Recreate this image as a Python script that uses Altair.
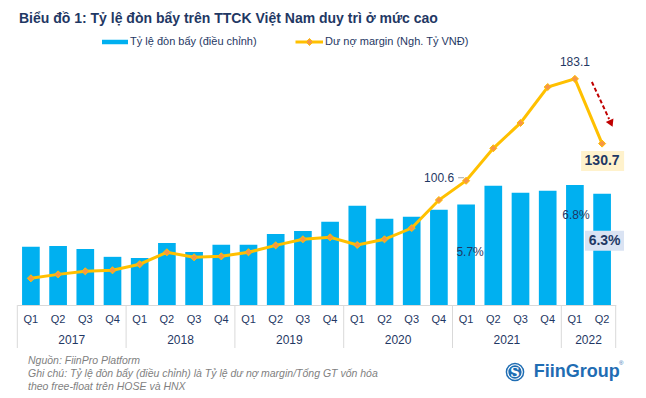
import altair as alt
import pandas as pd

# ---------------- data ----------------
years = ["2017", "2018", "2019", "2020", "2021", "2022"]
quarters_per_year = [4, 4, 4, 4, 4, 2]
quarter_names = ["Q1", "Q2", "Q3", "Q4"]

# Tỷ lệ đòn bẩy (điều chỉnh), %
leverage_pct = [3.30, 3.35, 3.18, 2.73,
                2.67, 3.52, 3.01, 3.41,
                3.41, 4.03, 4.20, 4.72,
                5.62, 4.89, 5.00, 5.40,
                5.70, 6.76, 6.36, 6.48,
                6.80, 6.30]
# Dư nợ margin (nghìn tỷ VNĐ)
margin_bn = [21.6, 24.8, 27.3, 28.1,
             33.0, 42.7, 38.6, 39.4,
             42.7, 48.3, 53.2, 54.8,
             48.6, 53.2, 62.3, 85.0,
             100.6, 126.9, 147.4, 176.5,
             183.1, 130.7]

BAR_LABEL = "Tỷ lệ đòn bẩy (điều chỉnh)"
LINE_LABEL = "Dư nợ margin (Ngh. Tỷ VNĐ)"
title_text = "Biểu đồ 1: Tỷ lệ đòn bẩy trên TTCK Việt Nam duy trì ở mức cao"
footer_lines = [
    "Nguồn: FiinPro Platform",
    "Ghi chú: Tỷ lệ đòn bẩy (điều chỉnh) là Tỷ lệ dư nợ margin/Tổng GT vốn hóa",
    "theo free-float trên HOSE và HNX",
]
brand_name = "FiinGroup"

# ---------------- styling ----------------
FONT = "Liberation Sans"
NAVY = "#1F3864"
BLUE = "#00B0F0"
GOLD = "#FFC000"
ORANGE = "#F79646"
GRID = "#D9D9D9"
LOGO_BLUE = "#1F6DB3"

W, H = 598.4, 247
HALF_STEP = W / 22 / 2

keys = []
for y, n in zip(years, quarters_per_year):
    for q in quarter_names[:n]:
        keys.append(f"{y}-{q}")

df = pd.DataFrame({"key": keys, "leverage": leverage_pct, "margin": margin_bn})

x_scale = alt.Scale(domain=keys, paddingInner=0.35, paddingOuter=0.175)
x_axis_def = alt.Axis(title=None, labelExpr="split(datum.value, '-')[1]", labelAngle=0,
                      ticks=False, tickSize=0, domainColor=GRID, domainWidth=1,
                      labelColor=NAVY, labelFontSize=11, labelFont=FONT, labelPadding=8,
                      grid=False)


def xk(field="key"):
    return alt.X(f"{field}:N", scale=x_scale, axis=x_axis_def)


lev_scale = alt.Scale(domain=[0, 14], nice=False, zero=True)
mar_scale = alt.Scale(domain=[0, 200], nice=False, zero=True)
y_lev = alt.Y("leverage:Q", scale=lev_scale, axis=None)
y_mar = alt.Y("margin:Q", scale=mar_scale, axis=None)

base = alt.Chart(df)

bars = base.mark_bar(color=BLUE).encode(x=xk(), y=y_lev)
line = base.mark_line(strokeWidth=3, color=GOLD).encode(x=xk(), y=y_mar)
points = base.mark_point(shape="diamond", filled=True, size=50, fill=ORANGE,
                         stroke=GOLD, strokeWidth=1, opacity=1).encode(x=xk(), y=y_mar)

# ---------------- annotations tied to data ----------------
i_peak, i_last, i_2021q1 = 20, 21, 16
ann = pd.DataFrame({
    "key": keys,
    "margin": margin_bn,
    "leverage": leverage_pct,
    "mlab": [f"{v:.1f}" for v in margin_bn],
    "llab": [f"{v:.1f}%" for v in leverage_pct],
})
peak = alt.Chart(ann.iloc[[i_peak]])
last = alt.Chart(ann.iloc[[i_last]])
q2021 = alt.Chart(ann.iloc[[i_2021q1]])

t_peak = peak.mark_text(font=FONT, fontSize=12, color=NAVY, dy=-17, baseline="middle").encode(
    x=xk(), y=y_mar, text="mlab:N")
t_1006 = q2021.mark_text(font=FONT, fontSize=12, color=NAVY, dx=-12, dy=-3, align="right",
                         baseline="middle").encode(x=xk(), y=y_mar, text="mlab:N")
lead_1006 = q2021.mark_rule(color="#A6A6A6", strokeWidth=1, xOffset=-8, x2Offset=-2,
                            yOffset=-3, y2Offset=-3).encode(
    x=xk(), x2=alt.X2("key:N"), y=y_mar, y2=alt.Y2("margin:Q"))
box_last = last.mark_point(shape="M-1,-0.465H1V0.465H-1Z", size=1849, filled=True,
                           color="#FFF2CC", opacity=1, yOffset=17.5, xOffset=0.5).encode(
    x=xk(), y=y_mar)
t_last = last.mark_text(font=FONT, fontSize=14, fontWeight="bold", color=NAVY, dy=17.5,
                        baseline="middle").encode(x=xk(), y=y_mar, text="mlab:N")

t_57 = q2021.mark_text(font=FONT, fontSize=12, color=NAVY, dx=4, dy=48, baseline="middle").encode(
    x=xk(), y=y_lev, text="llab:N")
t_68 = peak.mark_text(font=FONT, fontSize=12, color=NAVY, dx=1, dy=30, baseline="middle").encode(
    x=xk(), y=y_lev, text="llab:N")
box_63 = last.mark_point(shape="M-1,-0.513H1V0.513H-1Z", size=1521, filled=True,
                         color="#DAE3F3", opacity=1, yOffset=47, xOffset=2.4).encode(
    x=xk(), y=y_lev)
t_63 = last.mark_text(font=FONT, fontSize=14, fontWeight="bold", color=NAVY, dx=2.5, dy=47,
                      baseline="middle").encode(x=xk(), y=y_lev, text="llab:N")

# red dashed arrow indicating the drop (from peak toward last value)
arrow_df = pd.DataFrame({"k1": [keys[i_peak]], "k2": [keys[i_last]],
                         "m1": [180.6], "m2": [150.6], "mh": [147.0]})
arrow = alt.Chart(arrow_df).mark_rule(color="#C00000", strokeWidth=2, strokeDash=[4, 2.5],
                                      xOffset=17, x2Offset=7).encode(
    x=xk("k1"), x2="k2:N",
    y=alt.Y("m1:Q", scale=mar_scale, axis=None), y2="m2:Q")
arrow_head = alt.Chart(arrow_df).mark_point(shape="triangle-down", filled=True, size=70,
                                            color="#C00000", opacity=1, angle=335.6,
                                            xOffset=9).encode(
    x=xk("k2"), y=alt.Y("mh:Q", scale=mar_scale, axis=None))

# ---------------- two-level x axis: years and separators ----------------
year_anchor = [f"{y}-{quarter_names[n // 2 - 1]}" for y, n in zip(years, quarters_per_year)]
year_df = pd.DataFrame({"year": years, "anchor": year_anchor,
                        "first": [f"{y}-Q1" for y in years]})
year_labels = alt.Chart(year_df).mark_text(font=FONT, fontSize=12, color=NAVY,
                                           dx=HALF_STEP, baseline="middle").encode(
    x=xk("anchor"), y=alt.value(282), text="year:N")
seps = alt.Chart(year_df).mark_rule(color=GRID, strokeWidth=1, xOffset=-HALF_STEP).encode(
    x=xk("first"), y=alt.value(H), y2=alt.value(290))
end_sep = alt.Chart(pd.DataFrame({"k": [keys[-1]]})).mark_rule(
    color=GRID, strokeWidth=1, xOffset=HALF_STEP).encode(
    x=xk("k"), y=alt.value(H), y2=alt.value(290))

# ---------------- legend (drawn) ----------------
one = pd.DataFrame({"a": [0]})
leg_bar = alt.Chart(one).mark_point(shape="M-1,-0.173H1V0.173H-1Z", size=676, filled=True,
                                    color=BLUE, opacity=1).encode(
    x=alt.value(97.7), y=alt.value(-16))
leg_bar_t = alt.Chart(one).mark_text(text=BAR_LABEL, font=FONT, fontSize=11, color=NAVY,
                                     align="left", baseline="middle").encode(
    x=alt.value(112.7), y=alt.value(-16))
leg_line = alt.Chart(one).mark_rule(color=GOLD, strokeWidth=3).encode(
    x=alt.value(278.2), x2=alt.value(305.7), y=alt.value(-16))
leg_dot = alt.Chart(one).mark_point(shape="diamond", filled=True, size=50, fill=ORANGE,
                                    stroke=GOLD, strokeWidth=1, opacity=1).encode(
    x=alt.value(292.2), y=alt.value(-16))
leg_line_t = alt.Chart(one).mark_text(text=LINE_LABEL, font=FONT, fontSize=11, color=NAVY,
                                      align="left", baseline="middle").encode(
    x=alt.value(307.7), y=alt.value(-16))

# ---------------- title, footer, logo ----------------
title = alt.Chart(one).mark_text(text=title_text, font=FONT, fontSize=14, fontWeight="bold",
                                 color=NAVY, align="left", baseline="alphabetic").encode(
    x=alt.value(1.7), y=alt.value(-35.5))
footer = alt.Chart(one).mark_text(text=footer_lines, font=FONT, fontSize=10.5, fontStyle="italic",
                                  color="#7F7F7F", align="left", baseline="alphabetic",
                                  lineHeight=13).encode(x=alt.value(10.7), y=alt.value(306))
logo_circle = alt.Chart(one).mark_point(shape="circle", filled=True, size=346, color=LOGO_BLUE,
                                        opacity=1).encode(x=alt.value(497.7), y=alt.value(314))
logo_ring = alt.Chart(one).mark_point(shape="circle", filled=False, size=210, color="white",
                                      strokeWidth=1.2, opacity=1).encode(
    x=alt.value(497.7), y=alt.value(314))
logo_s = alt.Chart(one).mark_text(text="S", font="DejaVu Serif", fontSize=13, fontWeight="bold",
                                  color="white", baseline="middle").encode(
    x=alt.value(497.7), y=alt.value(314.5))
logo_text = alt.Chart(one).mark_text(text=brand_name, font=FONT, fontSize=18, fontWeight="bold",
                                     color=LOGO_BLUE, align="left", baseline="middle").encode(
    x=alt.value(516.5), y=alt.value(314))
logo_r = alt.Chart(one).mark_text(text="®", font=FONT, fontSize=6, color=LOGO_BLUE,
                                  baseline="middle").encode(x=alt.value(604), y=alt.value(305))

chart = alt.layer(
    bars, line, points,
    t_peak, lead_1006, t_1006, box_last, t_last,
    t_57, t_68, box_63, t_63,
    arrow, arrow_head,
    seps, end_sep, year_labels,
    leg_bar, leg_bar_t, leg_line, leg_dot, leg_line_t,
    title, footer, logo_circle, logo_ring, logo_s, logo_text, logo_r,
).resolve_scale(y="independent").properties(
    width=W, height=H,
    padding={"left": 9.3, "top": 50, "right": 22.3, "bottom": 88},
    autosize=alt.AutoSizeParams(type="none"),
    background="white",
).configure_view(stroke=None)

chart.save("out.html", embed_options={"renderer": "svg", "actions": False})
